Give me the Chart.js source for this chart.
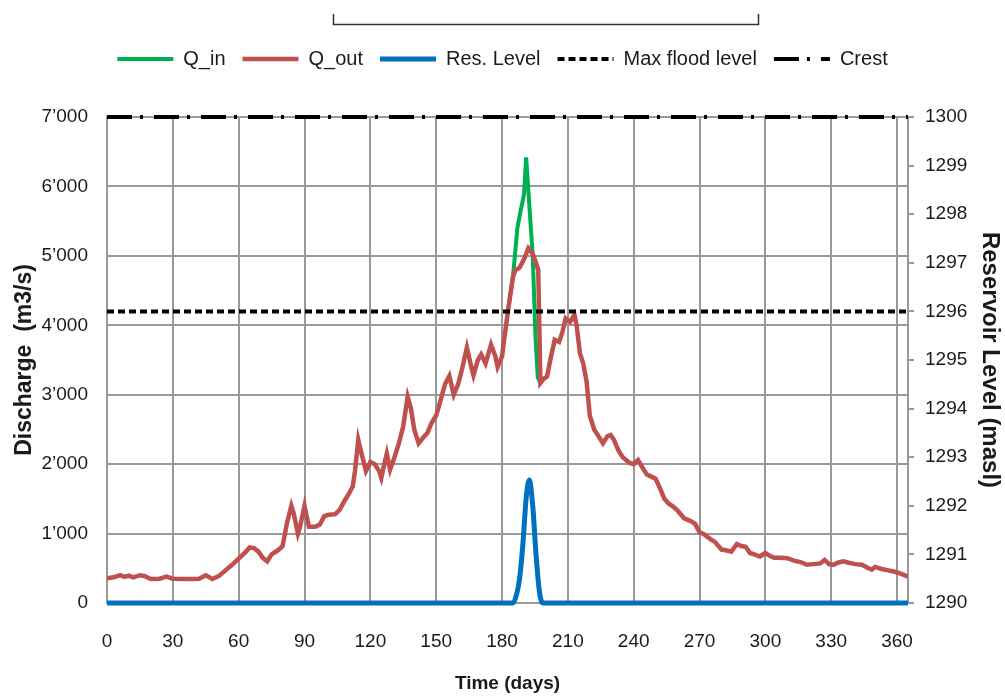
<!DOCTYPE html>
<html><head><meta charset="utf-8">
<script src="https://cdn.jsdelivr.net/npm/chart.js@4"></script>
<style>html,body{margin:0;padding:0;background:#fff}canvas{display:block}</style>
</head><body>
<canvas id="c" width="1005" height="696"></canvas>
<script>
// ---- data ----
const qOutDays = [0,3,6,8,10,12,15,17,20,24,27,30,35,40,42,45,48,51,54,57,60,63,65,67,69,71,73,75,78,80,82,84,85,87,88,90,92,95,97,99,101,104,106,108,110,112,113,114.5,116,118,120,122,124,125,126,127.5,129,131,133,135,137,138.5,140,142,144,146,148,150,152,154,156,158,160,162,164,166,167,169,170.5,172.5,175,177,178,180,181,183,185,186,188,190,192,194,195.5,196.5,197.5,199,200.5,202,204,206,207.5,209,211,213,214,215.5,217,218.5,220,222,224,226,228,229.5,231,233,235,238,240,242,244,246,248,250,252,254,256,258,260,263,266,268,270,272,275,277,280,282,284.5,287,289,291,293,295,297.5,300,302,304,307,310,313,316,319,322,325,327,329,331,333,335.5,338,341,344,347,348.5,350,353,356,359,362,365];
const qOutValues = [355,370,400,375,395,370,400,390,345,350,380,350,345,345,350,400,345,390,470,550,640,730,800,790,740,650,600,700,760,820,1150,1400,1300,1000,1100,1400,1100,1100,1130,1250,1270,1280,1340,1460,1560,1680,1900,2350,2150,1900,2030,2000,1900,1800,1950,2150,1920,2100,2300,2550,2970,2800,2500,2300,2380,2450,2600,2700,2920,3150,3270,3000,3150,3400,3680,3400,3280,3500,3580,3450,3720,3550,3400,3550,3800,4270,4700,4790,4830,4950,5110,5030,4900,4800,3170,3230,3260,3500,3790,3760,3900,4100,4050,4150,4000,3600,3450,3200,2700,2500,2400,2300,2400,2420,2350,2200,2100,2020,2000,2060,1950,1850,1820,1790,1650,1500,1430,1390,1330,1220,1180,1140,1020,990,920,880,770,760,740,850,820,810,720,700,670,720,680,650,650,645,610,590,550,560,570,620,560,550,580,600,580,560,550,500,480,520,490,470,450,420,380];
const qInDays = [183,185,187,188.5,190,191,192.3,194,195.3,196.3,197.5];
const qInValues = [4270,4700,5400,5650,5880,6420,5800,5000,3800,3250,3170];
const levelDays = [0,185,186.5,188,189.5,191,192.4,194,195.5,197,198.5,365];
const levelValues = [1290,1290,1290.15,1290.5,1291.2,1292.15,1292.53,1292.0,1291.0,1290.25,1290,1290];
const maxFloodLevel = 1296;
const crestLevel = 1300;
const dayExtent = [0, 365];
const dayTicks = [0,30,60,90,120,150,180,210,240,270,300,330,360];
const dischargeTicks = [0,1000,2000,3000,4000,5000,6000,7000];
const levelTicks = [1290,1291,1292,1293,1294,1295,1296,1297,1298,1299,1300];
const seriesNames = ['Q_in','Q_out','Res. Level','Max flood level','Crest'];

const pts = (xs, ys) => xs.map((x, i) => ({x, y: ys[i]}));
const F = "'Liberation Sans', Arial, sans-serif";
const GRID = '#999999';
const TXT = '#1a1a1a';
const fmtK = v => { const s = String(v); return s.length > 3 ? s.slice(0, -3) + '\u2019' + s.slice(-3) : s; };

const legendSpace = {
  id: 'legendSpace',
  beforeLayout(chart) {
    const lg = chart.legend;
    if (lg && !lg._patched) {
      const orig = lg.fit;
      lg.fit = function () { orig.call(this); this.height += 38; };
      lg._patched = true;
    }
  }
};
const bracket = {
  id: 'bracket',
  afterDraw(chart) {
    const ctx = chart.ctx;
    ctx.save();
    ctx.strokeStyle = '#333';
    ctx.lineWidth = 1.5;
    ctx.beginPath();
    ctx.moveTo(333.5, 14); ctx.lineTo(333.5, 24.5); ctx.lineTo(758.5, 24.5); ctx.lineTo(758.5, 14);
    ctx.stroke();
    ctx.restore();
  }
};

new Chart(document.getElementById('c'), {
  type: 'line',
  data: {
    datasets: [
      { label: seriesNames[0], data: pts(qInDays, qInValues), yAxisID: 'y', borderColor: '#00b050', backgroundColor: '#00b050', borderWidth: 4, pointRadius: 0, pointStyle: 'line', tension: 0, order: 5 },
      { label: seriesNames[1], data: pts(qOutDays, qOutValues), yAxisID: 'y', borderColor: '#c0504d', backgroundColor: '#c0504d', borderWidth: 4.5, pointRadius: 0, pointStyle: 'line', tension: 0, order: 4 },
      { label: seriesNames[2], data: pts(levelDays, levelValues), yAxisID: 'y1', borderColor: '#0070c0', backgroundColor: '#0070c0', borderWidth: 5, pointRadius: 0, pointStyle: 'line', cubicInterpolationMode: 'monotone', clip: 8, order: 1 },
      { label: seriesNames[3], data: pts(dayExtent, [maxFloodLevel, maxFloodLevel]), yAxisID: 'y1', borderColor: '#000', backgroundColor: '#000', borderWidth: 4, borderDash: [7, 4], pointRadius: 0, pointStyle: 'line', order: 3 },
      { label: seriesNames[4], data: pts(dayExtent, [crestLevel, crestLevel]), yAxisID: 'y1', borderColor: '#000', backgroundColor: '#000', borderWidth: 4, borderDash: [25, 8, 3, 11], pointRadius: 0, pointStyle: 'line', clip: 8, order: 2 }
    ]
  },
  options: {
    responsive: false,
    animation: false,
    layout: { padding: { top: 32, left: 0, right: 0, bottom: 0 } },
    plugins: {
      legend: {
        position: 'top',
        labels: {
          usePointStyle: true, pointStyleWidth: 56, padding: 17,
          font: { family: F, size: 20 }, color: TXT,
          sort: (a, b) => a.datasetIndex - b.datasetIndex,
          generateLabels: chart => Chart.defaults.plugins.legend.labels.generateLabels(chart).map(item => {
            const ds = chart.data.datasets[item.datasetIndex];
            item.lineDash = ds.borderDash || [];
            item.lineWidth = ds.borderWidth;
            item.strokeStyle = ds.borderColor;
            item.fillStyle = ds.borderColor;
            return item;
          })
        }
      },
      tooltip: { enabled: false }
    },
    scales: {
      x: {
        type: 'linear', min: dayExtent[0], max: dayExtent[1],
        afterBuildTicks: s => { s.ticks = dayTicks.map(v => ({ value: v })); },
        afterFit: s => { s.height = 93; },
        ticks: { font: { family: F, size: 19 }, color: TXT, padding: 27, maxRotation: 0, autoSkip: false },
        grid: { color: GRID, lineWidth: 2, drawTicks: false },
        border: { color: GRID, width: 2 },
        title: { display: true, text: 'Time (days)', font: { family: F, size: 19, weight: 'bold' }, color: TXT, padding: { top: 0, bottom: 1 } }
      },
      y: {
        position: 'left', min: 0, max: 7000,
        afterBuildTicks: s => { s.ticks = dischargeTicks.map(v => ({ value: v })); },
        afterFit: s => { s.width = 107; },
        ticks: { font: { family: F, size: 19 }, color: TXT, padding: 19, callback: v => fmtK(v) },
        grid: { color: GRID, lineWidth: 2, drawTicks: false },
        border: { color: GRID, width: 2 },
        title: { display: true, text: 'Discharge  (m3/s)', font: { family: F, size: 23, weight: 'bold' }, color: TXT, padding: { top: 11, bottom: 0 } }
      },
      y1: {
        position: 'right', min: 1290, max: 1300,
        afterBuildTicks: s => { s.ticks = levelTicks.map(v => ({ value: v })); },
        afterFit: s => { s.width = 97; },
        ticks: { font: { family: F, size: 19 }, color: TXT, padding: 11, callback: v => String(v) },
        grid: { color: GRID, lineWidth: 2, drawOnChartArea: false, drawTicks: true, tickLength: 6 },
        border: { color: GRID, width: 2 },
        title: { display: true, text: 'Reservoir Level (masl)', font: { family: F, size: 24, weight: 'bold' }, color: TXT, padding: { top: 1, bottom: 0 } }
      }
    }
  },
  plugins: [legendSpace, bracket]
});
</script>
</body></html>
